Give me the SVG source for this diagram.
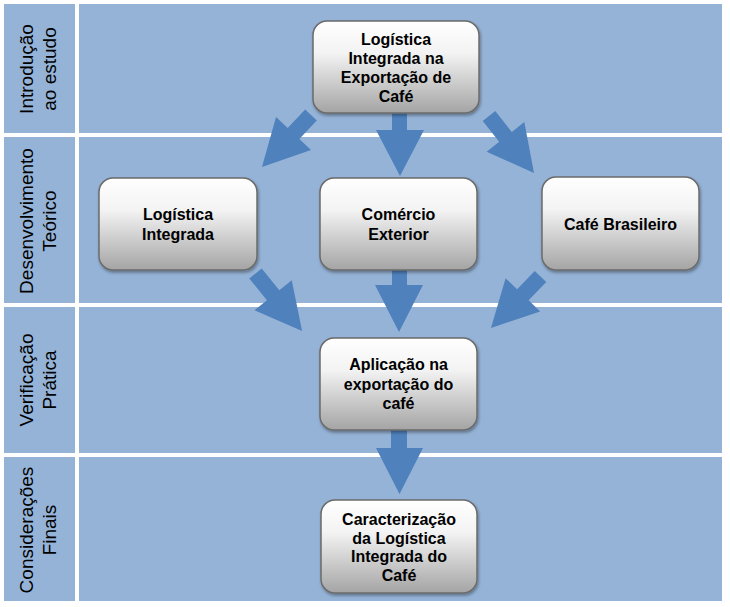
<svg xmlns="http://www.w3.org/2000/svg" width="730" height="607" viewBox="0 0 730 607">
<defs>
<linearGradient id="ng" x1="0" y1="0" x2="0" y2="1">
<stop offset="0" stop-color="#ffffff"/>
<stop offset="0.35" stop-color="#f3f3f3"/>
<stop offset="1" stop-color="#a4a4a4"/>
</linearGradient>
<filter id="sh" x="-10%" y="-10%" width="120%" height="125%">
<feDropShadow dx="1" dy="2" stdDeviation="1.5" flood-color="#000" flood-opacity="0.35"/>
</filter>
</defs>
<style>
.band{fill:#95b3d7}
.lbl{font-family:"Liberation Sans",Arial,sans-serif;font-size:19px;fill:#000;text-anchor:middle}
.box{fill:url(#ng);stroke:#6b6b6b;stroke-width:1.5;filter:url(#sh)}
.t{font-family:"Liberation Sans",Arial,sans-serif;font-size:16px;font-weight:bold;fill:#000;text-anchor:middle}
.arr{fill:#4f81bd}
</style>
<rect x="0" y="0" width="730" height="607" fill="#ffffff"/>
<g id="bands">
<rect class="band" x="4" y="4" width="71" height="129"/>
<rect class="band" x="79" y="4" width="643" height="129"/>
<rect class="band" x="4" y="137" width="71" height="166"/>
<rect class="band" x="79" y="137" width="643" height="166"/>
<rect class="band" x="4" y="307" width="71" height="146"/>
<rect class="band" x="79" y="307" width="643" height="146"/>
<rect class="band" x="4" y="457" width="71" height="144"/>
<rect class="band" x="79" y="457" width="643" height="144"/>
</g>
<g id="labels">
<text class="lbl" transform="translate(0,69) rotate(-90)"><tspan x="0" y="33">Introdução</tspan><tspan x="0" y="56">ao estudo</tspan></text>
<text class="lbl" transform="translate(0,221) rotate(-90)"><tspan x="0" y="33">Desenvolvimento</tspan><tspan x="0" y="56">Teórico</tspan></text>
<text class="lbl" transform="translate(0,380) rotate(-90)"><tspan x="0" y="33">Verificação</tspan><tspan x="0" y="56">Prática</tspan></text>
<text class="lbl" transform="translate(0,530) rotate(-90)"><tspan x="0" y="33">Considerações</tspan><tspan x="0" y="56">Finais</tspan></text>
</g>
<g id="connectors">
<path class="arr" d="M392,112 L407,112 L407,130 L424,130 L400,176 L376,130 L392,130 Z"/>
<path class="arr" transform="translate(311,115) rotate(133.3)" d="M0,-8 L25.5,-8 L25.5,-24 L71.5,0 L25.5,24 L25.5,8 L0,8 Z"/>
<path class="arr" transform="translate(489,116) rotate(51.7)" d="M0,-8 L26.6,-8 L26.6,-24 L72.6,0 L26.6,24 L26.6,8 L0,8 Z"/>
<path class="arr" transform="translate(255.5,273.5) rotate(51)" d="M0,-8 L28,-8 L28,-24 L74,0 L28,24 L28,8 L0,8 Z"/>
<path class="arr" transform="translate(540.5,276.5) rotate(133.9)" d="M0,-8 L25.4,-8 L25.4,-24 L71.4,0 L25.4,24 L25.4,8 L0,8 Z"/>
<path class="arr" d="M392,270 L407,270 L407,285 L423,285 L399,332 L375,285 L392,285 Z"/>
<path class="arr" d="M391,429 L407,429 L407,448 L423,448 L399.5,494 L376,448 L391,448 Z"/>
</g>
<g id="n1">
<rect class="box" x="313" y="21" width="166" height="92" rx="14"/>
<text class="t"><tspan x="396" y="45">Logística</tspan><tspan x="396" y="64">Integrada na</tspan><tspan x="396" y="83">Exportação de</tspan><tspan x="396" y="102">Café</tspan></text>
</g>
<g id="n2">
<rect class="box" x="99" y="178" width="158" height="92" rx="14"/>
<text class="t"><tspan x="178" y="220">Logística</tspan><tspan x="178" y="240">Integrada</tspan></text>
</g>
<g id="n3">
<rect class="box" x="320" y="178" width="157" height="92" rx="14"/>
<text class="t"><tspan x="398.5" y="220">Comércio</tspan><tspan x="398.5" y="240">Exterior</tspan></text>
</g>
<g id="n4">
<rect class="box" x="542" y="177" width="157" height="93" rx="14"/>
<text class="t"><tspan x="620.5" y="230">Café Brasileiro</tspan></text>
</g>
<g id="n5">
<rect class="box" x="320" y="338" width="157" height="92" rx="14"/>
<text class="t"><tspan x="398.5" y="370">Aplicação na</tspan><tspan x="398.5" y="389.5">exportação do</tspan><tspan x="398.5" y="409">café</tspan></text>
</g>
<g id="n6">
<rect class="box" x="321" y="500" width="156" height="93" rx="14"/>
<text class="t"><tspan x="399" y="525">Caracterização</tspan><tspan x="399" y="543.5">da Logística</tspan><tspan x="399" y="562">Integrada do</tspan><tspan x="399" y="580.5">Café</tspan></text>
</g>
</svg>
